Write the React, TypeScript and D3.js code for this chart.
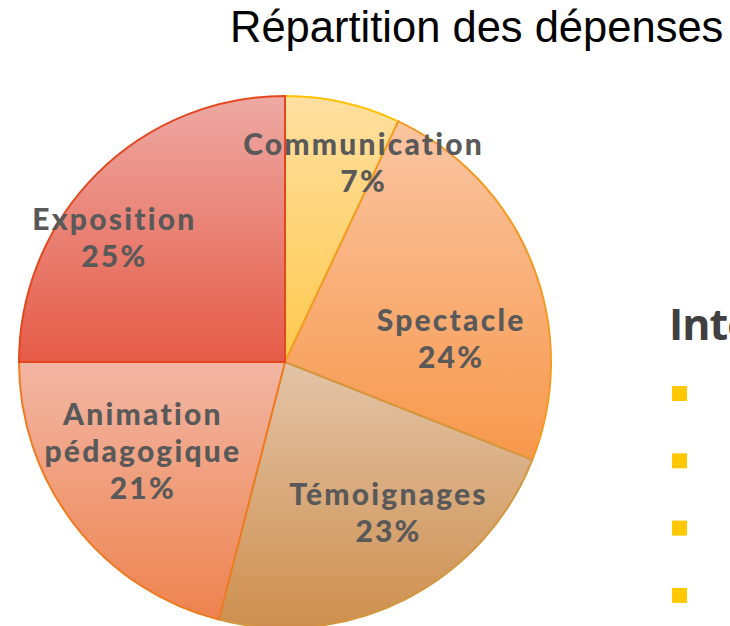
import React, { useEffect, useRef } from 'react';
import * as d3 from 'd3';

// Chart data
const categories = ['Communication', 'Spectacle', 'Témoignages', 'Animation pédagogique', 'Exposition'];
const shares = [7, 24, 23, 21, 25];
const labelLines = [['Communication'], ['Spectacle'], ['Témoignages'], ['Animation', 'pédagogique'], ['Exposition']];

// Styling (top/bottom gradient colours and outline per slice)
const gradTop = ['#FFE0A1', '#FAC5A2', '#E3C4A8', '#F2B6A4', '#EEA9A4'];
const gradBottom = ['#FFC94E', '#F7984C', '#CE8F4E', '#EE834F', '#E55B47'];
const strokes = ['#FFC000', '#F49A22', '#D4963F', '#EE7B22', '#E4461E'];
// label nudges from the 0.7R centroid (first baseline)
const labelNudge: [number, number][] = [[38, -25], [-7, 38], [19, -23], [5, -51], [-39, 0]];

const W = 730;
const H = 626;

const App: React.FC = () => {
  const svgRef = useRef<SVGSVGElement>(null);

  useEffect(() => {
    if (!svgRef.current) return;
    const svg = d3.select(svgRef.current);
    svg.selectAll('*').remove();

    const cx = 285;
    const cy = 362;
    const R = 266;

    const defs = svg.append('defs');
    categories.forEach((_, i) => {
      const lg = defs.append('linearGradient')
        .attr('id', `g${i}`)
        .attr('x1', 0).attr('y1', 0).attr('x2', 0).attr('y2', 1);
      lg.append('stop').attr('offset', '0%').attr('stop-color', gradTop[i]);
      lg.append('stop').attr('offset', '100%').attr('stop-color', gradBottom[i]);
    });

    const pie = d3.pie<number>().sort(null).value(d => d);
    const arcs = pie(shares);
    const arc = d3.arc<d3.PieArcDatum<number>>().innerRadius(0).outerRadius(R);
    const labelArc = d3.arc<d3.PieArcDatum<number>>().innerRadius(R * 0.7).outerRadius(R * 0.7);

    const g = svg.append('g').attr('transform', `translate(${cx},${cy})`);

    g.selectAll('path')
      .data(arcs)
      .join('path')
      .attr('d', arc)
      .attr('fill', (_, i) => `url(#g${i})`)
      .attr('stroke', (_, i) => strokes[i])
      .attr('stroke-width', 2)
      .attr('stroke-linejoin', 'round');

    const lineH = 37;
    const labels = g.selectAll('g.lbl')
      .data(arcs)
      .join('g')
      .attr('class', 'lbl')
      .attr('transform', (d, i) => {
        const [x, y] = labelArc.centroid(d);
        return `translate(${x + labelNudge[i][0]},${y + labelNudge[i][1]})`;
      });

    labels.each(function (d, i) {
      const t = d3.select(this).append('text')
        .attr('text-anchor', 'middle')
        .attr('font-family', 'Lato, sans-serif')
        .attr('font-weight', 900)
        .attr('font-size', 30)
        .attr('letter-spacing', 2.2)
        .attr('fill', '#595959');
      const lines = [...labelLines[i], `${d.data}%`];
      lines.forEach((ln, k) => {
        t.append('tspan').attr('x', 0).attr('y', k * lineH).text(ln);
      });
    });

    // Title
    svg.append('text')
      .attr('x', 230)
      .attr('y', 42)
      .attr('font-family', '"Liberation Sans", Arial, sans-serif')
      .attr('font-size', 43.5)
      .attr('fill', '#000')
      .text('Répartition des dépenses');

    // Partially visible slide text on the right
    svg.append('text')
      .attr('x', 669)
      .attr('y', 340)
      .attr('font-family', '"Open Sans", sans-serif')
      .attr('font-weight', 'bold')
      .attr('font-size', 43)
      .attr('letter-spacing', -1)
      .attr('fill', '#404040')
      .text('Intervenants');

    svg.append('g')
      .selectAll('rect')
      .data(d3.range(4))
      .join('rect')
      .attr('x', 672)
      .attr('y', k => 386 + k * 67.3)
      .attr('width', 15)
      .attr('height', 15)
      .attr('fill', '#FFC800');
  }, []);

  return (
    <svg
      ref={svgRef}
      width={W}
      height={H}
      style={{ position: 'absolute', left: 0, top: 0, background: '#fff' }}
    />
  );
};

export default App;
